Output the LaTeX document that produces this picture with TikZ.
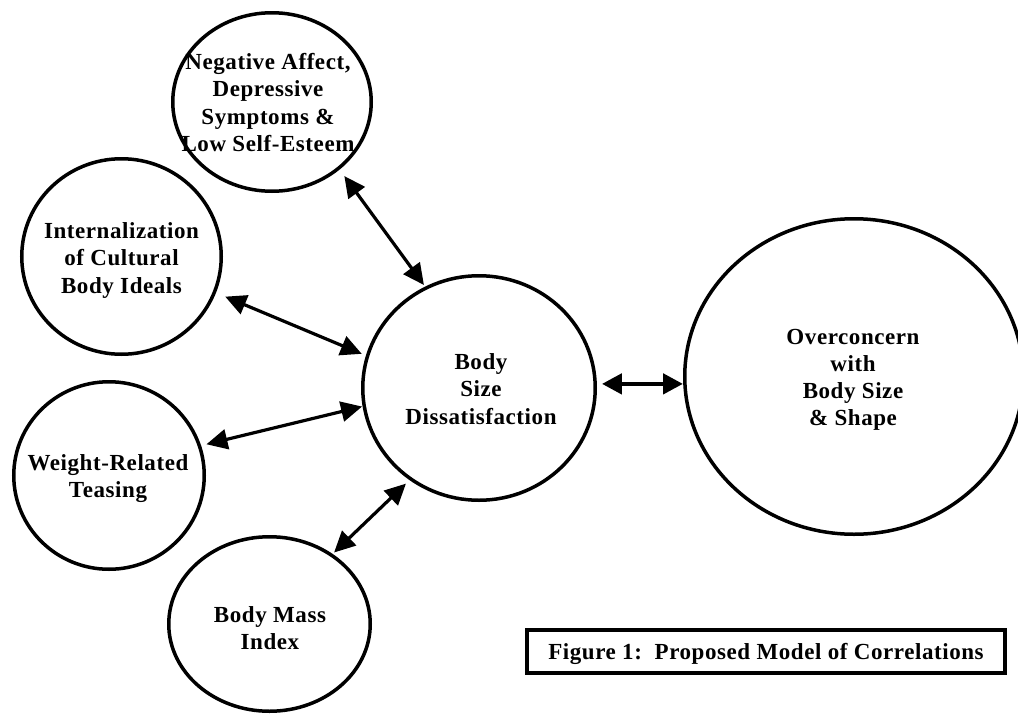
\documentclass[tikz,border=0pt]{standalone}
\usepackage{fontspec}
\setmainfont{Liberation Serif}[LetterSpace=2.5]
\usetikzlibrary{arrows.meta,shapes.geometric}
\tikzset{
  bubble/.style={ellipse, draw=black, line width=3.5pt, inner sep=0pt},
  lbl/.style={align=center, inner sep=0pt, text depth=0pt,
    font={\fontsize{23pt}{27.3pt}\selectfont\bfseries}},
  link/.style={line width=3.2pt,
    {Triangle[length=21pt,width=20pt]}-{Triangle[length=21pt,width=20pt]}},
  boldlink/.style={line width=4.6pt,
    {Triangle[length=20pt,width=20pt]}-{Triangle[length=20pt,width=20pt]}},
  capbox/.style={draw=black, line width=4pt, inner sep=0pt, text depth=0pt,
    minimum width=478pt, minimum height=43pt,
    font={\fontsize{23pt}{27.3pt}\selectfont\bfseries}}
}
\begin{document}
\begin{tikzpicture}[x=1pt,y=-1pt]
\useasboundingbox (0,0) rectangle (1018,715);
% circles
\node[bubble, minimum width=198.5pt, minimum height=178.5pt] (neg) at (272,102) {};
\node[bubble, minimum width=199.5pt, minimum height=195.5pt] (int) at (121.5,256.5) {};
\node[bubble, minimum width=190.5pt, minimum height=187.5pt] (tease) at (109,475.5) {};
\node[bubble, minimum width=201.5pt, minimum height=174.5pt] (bmi) at (269.5,624) {};
\node[bubble, minimum width=232.5pt, minimum height=224.5pt] (bsd) at (479,388) {};
\node[bubble, minimum width=338.5pt, minimum height=315.5pt] (over) at (854,376.5) {};
% texts
\node[lbl] (negt) at (268,102.4) {Negative Affect,\\Depressive\\Symptoms \&\\Low Self-Esteem};
\node[lbl] (intt) at (121.5,257.9) {Internalization\\of Cultural\\Body Ideals};
\node[lbl] (teaset) at (108,475.9) {Weight-Related\\Teasing};
\node[lbl] (bmit) at (270,627.9) {Body Mass\\Index};
\node[lbl] (bsdt) at (481,388.9) {Body\\Size\\Dissatisfaction};
\node[lbl] (overt) at (853,377.4) {Overconcern\\with\\Body Size\\\& Shape};
% caption
\node[capbox] (cap) at (766,651.5) {Figure 1:\ \ Proposed Model of Correlations};
% connectors
\draw[link, shorten <=8pt, shorten >=2pt] (neg.-45.8) -- (bsd.118.5);
\draw[link, shorten <=10pt, shorten >=4.5pt] (int.-21) -- (bsd.164.8);
\draw[link, shorten <=5.5pt, shorten >=0.5pt] (tease.18.8) -- (bsd.189.2);
\draw[link, shorten <=2pt, shorten >=5pt] (bmi.48.4) -- (bsd.233.4);
\draw[boldlink, shorten <=5pt] (bsd.2.8) -- (bsd.2.8 -| over.west);
\end{tikzpicture}
\end{document}
